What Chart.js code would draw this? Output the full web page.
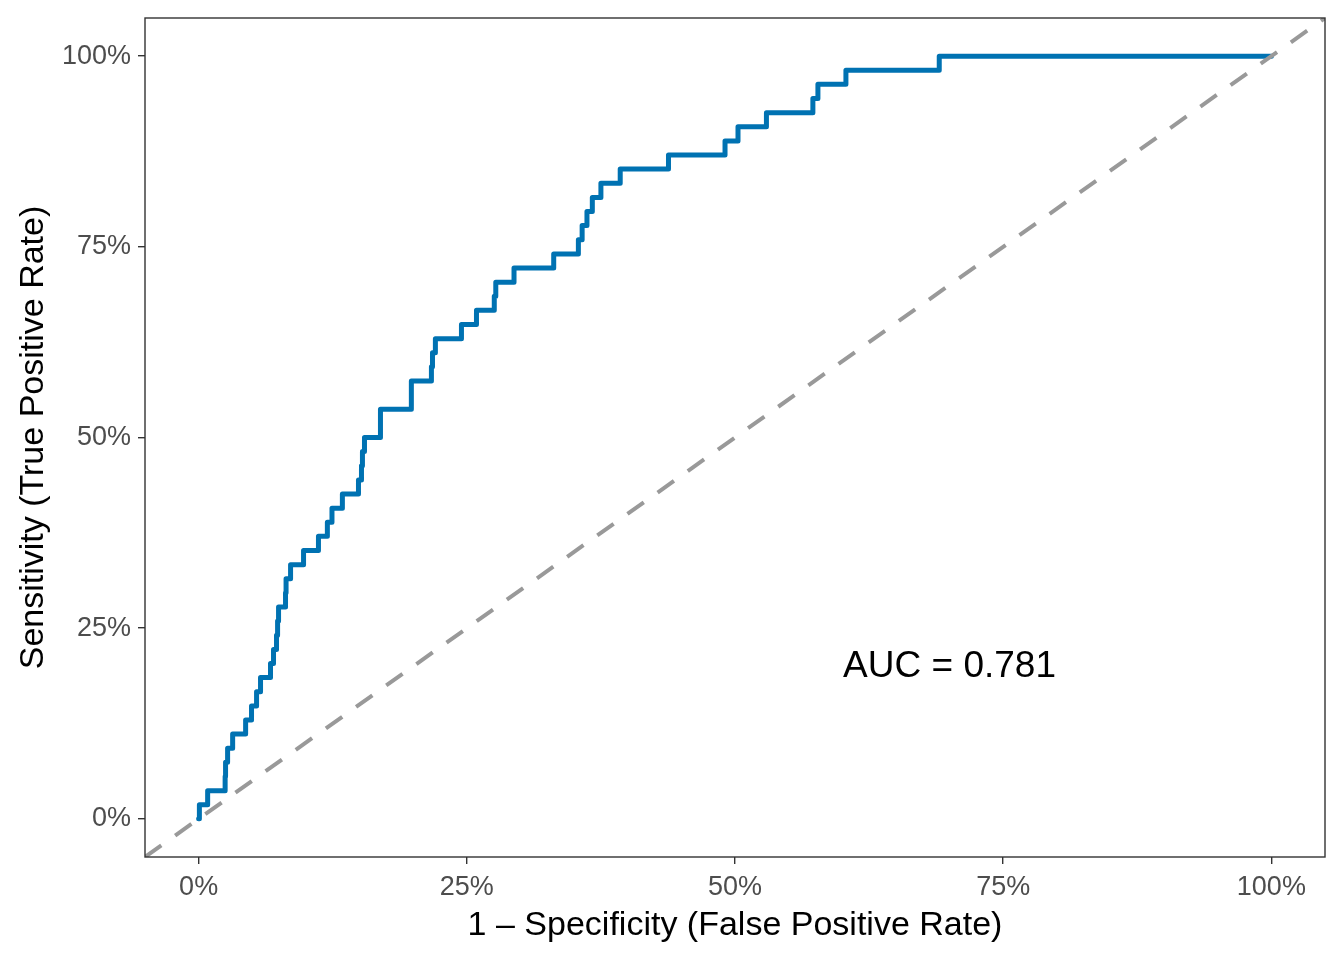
<!DOCTYPE html>
<html>
<head>
<meta charset="utf-8">
<script src="https://cdn.jsdelivr.net/npm/chart.js@4/dist/chart.umd.min.js"></script>
<style>
  html, body { margin: 0; padding: 0; background: #ffffff; }
  #wrap { width: 1344px; height: 960px; }
</style>
</head>
<body>
<div id="wrap"><canvas id="roc" width="1344" height="960"></canvas></div>
<script>
// ROC curve steps: false positive rate (%) where sensitivity steps up, and the new sensitivity (%)
const fprSteps = [0, 0.07, 0.84, 2.47, 2.51, 2.70, 3.17, 4.38, 4.93, 5.40, 5.77,
  6.70, 6.98, 7.26, 7.36, 7.45, 8.10, 8.15, 8.57, 9.78, 11.17,
  12.00, 12.43, 13.40, 14.90, 15.18, 15.27, 15.46, 16.95, 16.95, 19.83,
  19.83, 21.70, 21.80, 22.07, 24.50, 25.90, 27.56, 27.70, 29.40, 33.10,
  35.40, 35.75, 36.20, 36.70, 37.50, 39.30, 43.80, 49.07, 50.28, 52.93,
  57.26, 57.73, 60.34, 69.04, 100];
const tprSteps = [0, 1.85, 3.70, 5.56, 7.41, 9.26, 11.11, 12.96, 14.81, 16.67, 18.52,
  20.37, 22.22, 24.07, 25.93, 27.78, 29.63, 31.48, 33.33, 35.19, 37.04,
  38.89, 40.74, 42.59, 44.44, 46.30, 48.15, 50.00, 51.85, 53.70, 55.56,
  57.41, 59.26, 61.11, 62.96, 64.81, 66.67, 68.52, 70.37, 72.22, 74.07,
  75.93, 77.78, 79.63, 81.48, 83.33, 85.19, 87.04, 88.89, 90.74, 92.59,
  94.44, 96.30, 98.15, 100, 100];

// reference diagonal (chance line), spans the full panel
const chanceX = [-5, 105];
const chanceY = [-5, 105];

const tickValues = [0, 25, 50, 75, 100];
const aucLabel = 'AUC = 0.781';
const aucPos = { x: 70, y: 20 };

const FONT = '"Liberation Sans", Arial, Helvetica, sans-serif';

const rocPoints = fprSteps.map((x, i) => ({ x: x, y: tprSteps[i] }));
const chancePoints = chanceX.map((x, i) => ({ x: x, y: chanceY[i] }));

// panel border + AUC annotation
const panelPlugin = {
  id: 'panel',
  afterDraw(chart) {
    const { ctx, chartArea, scales } = chart;
    ctx.save();
    ctx.strokeStyle = '#333333';
    ctx.lineWidth = 1.4;
    ctx.strokeRect(chartArea.left, chartArea.top,
      chartArea.right - chartArea.left, chartArea.bottom - chartArea.top);
    ctx.fillStyle = '#000000';
    ctx.font = '37px ' + FONT;
    ctx.textAlign = 'center';
    ctx.textBaseline = 'middle';
    ctx.fillText(aucLabel, scales.x.getPixelForValue(aucPos.x), scales.y.getPixelForValue(aucPos.y));
    ctx.restore();
  }
};

const fixedTicks = (scale) => {
  scale.ticks = tickValues.map(v => ({ value: v }));
};

new Chart(document.getElementById('roc'), {
  type: 'line',
  data: {
    datasets: [
      {
        label: 'ROC',
        data: rocPoints,
        stepped: 'before',
        borderColor: '#0072B2',
        borderWidth: 5,
        borderJoinStyle: 'round',
        borderCapStyle: 'round',
        pointRadius: 0,
        fill: false,
        order: 1
      },
      {
        label: 'Chance',
        data: chancePoints,
        borderColor: '#999999',
        borderWidth: 4,
        borderDash: [20, 17],
        pointRadius: 0,
        fill: false,
        order: 0
      }
    ]
  },
  options: {
    responsive: false,
    devicePixelRatio: 1,
    animation: false,
    layout: { padding: { top: 18, right: 19, left: 0, bottom: 0 } },
    plugins: {
      legend: { display: false },
      tooltip: { enabled: false }
    },
    scales: {
      x: {
        type: 'linear',
        min: -5,
        max: 105,
        afterBuildTicks: fixedTicks,
        afterFit: (scale) => {
          scale.height = 103;
          scale.paddingLeft = 0;
          scale.paddingRight = 0;
        },
        grid: { drawOnChartArea: false, tickLength: 7, color: '#333333', lineWidth: 1.4 },
        border: { display: false },
        ticks: {
          color: '#4D4D4D',
          font: { family: FONT, size: 27 },
          padding: 7,
          maxRotation: 0,
          callback: (v) => v + '%'
        },
        title: {
          display: true,
          text: '1 \u2013 Specificity (False Positive Rate)',
          color: '#000000',
          font: { family: FONT, size: 34 },
          padding: { top: 4, bottom: 14 }
        }
      },
      y: {
        type: 'linear',
        min: -5,
        max: 105,
        afterBuildTicks: fixedTicks,
        afterFit: (scale) => {
          scale.width = 145;
          scale.paddingTop = 0;
          scale.paddingBottom = 0;
        },
        grid: { drawOnChartArea: false, tickLength: 7, color: '#333333', lineWidth: 1.4 },
        border: { display: false },
        ticks: {
          color: '#4D4D4D',
          font: { family: FONT, size: 27 },
          padding: 7,
          callback: (v) => v + '%'
        },
        title: {
          display: true,
          text: 'Sensitivity (True Positive Rate)',
          color: '#000000',
          font: { family: FONT, size: 34 },
          padding: { top: 13, bottom: 0 }
        }
      }
    }
  },
  plugins: [panelPlugin]
});
</script>
</body>
</html>
